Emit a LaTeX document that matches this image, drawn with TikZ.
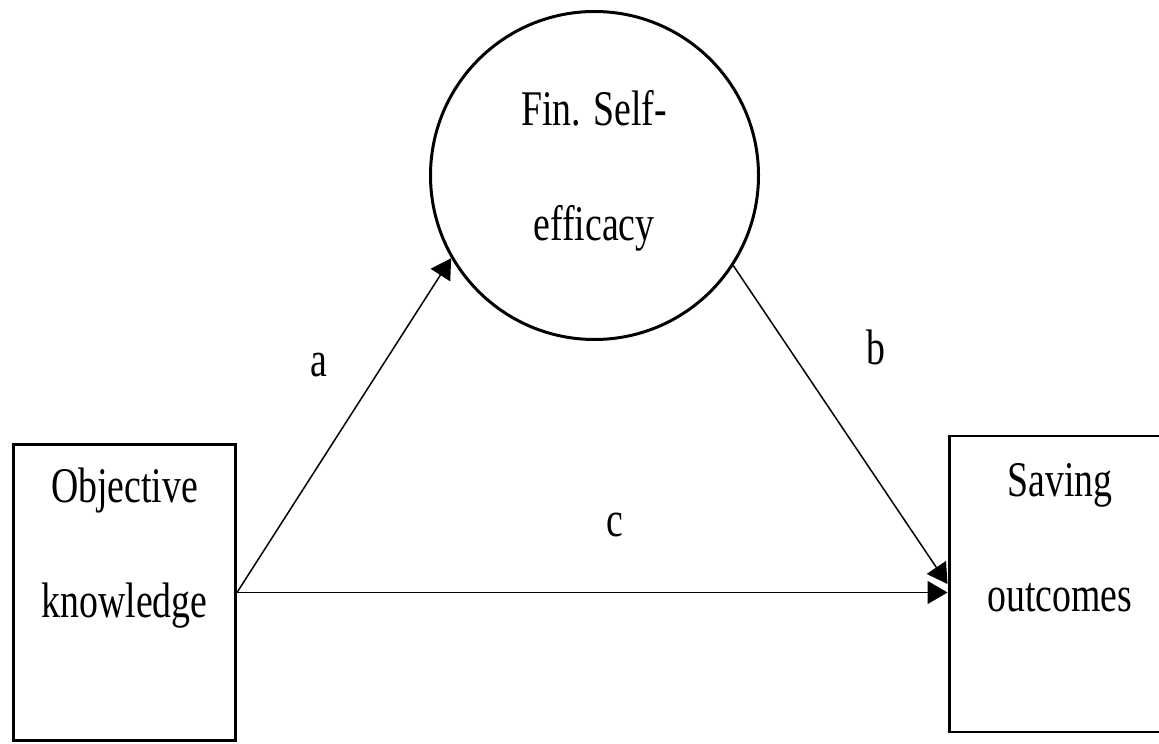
\documentclass[tikz,border=0pt]{standalone}
\usepackage{fontspec}
\setmainfont{Liberation Serif}
\usetikzlibrary{arrows.meta}

\begin{document}
\begin{tikzpicture}[
        every node/.style={
            font=\fontsize{21.5}{49.5}\selectfont
        },
        varbox/.style={draw, line width=1.7pt, minimum width=4.44cm, minimum height=5.92cm, inner sep=0pt},
        vartext/.style={align=center, yscale=1.32},
        pathlbl/.style={anchor=base, yscale=1.32},
        path/.style={line width=0.85pt, -{Triangle[length=0.4cm, width=0.46cm]}}
    ]
        \useasboundingbox (0,0) rectangle (23.18,14.86);

        % Variables
        \node[varbox] (obj) at (2.49,3.01) {};
        \node[vartext] (objtxt) at (2.49,3.90) {Objective\\knowledge};

        \node[draw, circle, line width=1.7pt, minimum size=6.56cm, inner sep=0pt] (fse) at (11.89,11.35) {};
        \node[vartext] (fsetxt) at (11.88,11.45) {Fin. Self-\\efficacy};

        \node[varbox] (sav) at (21.2,3.18) {};
        \node[vartext] (savtxt) at (21.2,4.10) {Saving\\outcomes};

        % Paths
        \draw[path] (obj.east) -- (fse.210);
        \draw[path] (fse.-33) -- (sav.west);
        \draw[path] (obj.east) -- (obj.east -| sav.west);

        \node[pathlbl] (la) at (6.38,7.32) {a};
        \node[pathlbl] (lb) at (17.52,7.56) {b};
        \node[pathlbl] (lc) at (12.30,4.14) {c};
    \end{tikzpicture}
\end{document}
